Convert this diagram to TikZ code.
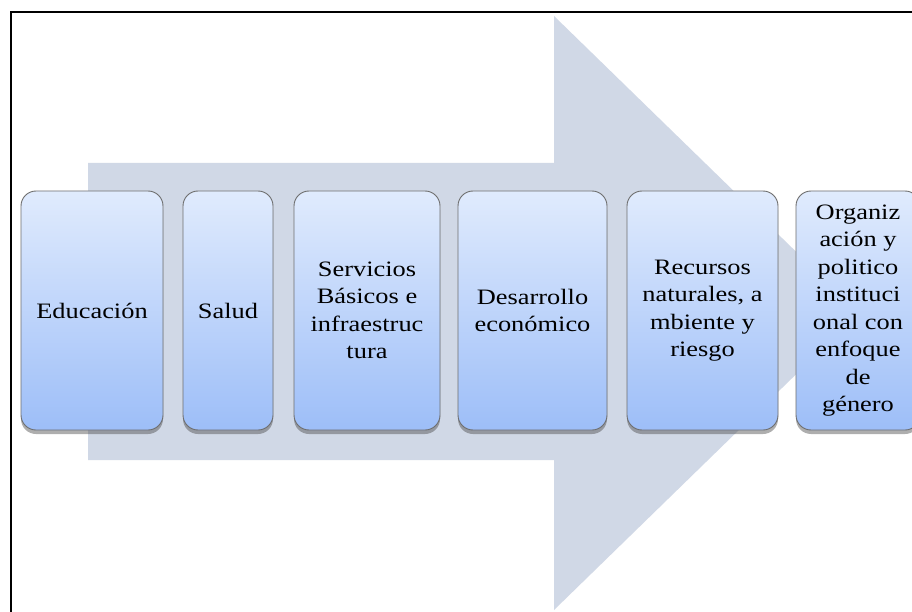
\documentclass[tikz,border=0pt]{standalone}
\usepackage{fontspec}
\setmainfont{Liberation Serif}[FakeStretch=1.2]
\usetikzlibrary{shadows}
\definecolor{arrowfill}{HTML}{D0D8E6}
\definecolor{boxtop}{HTML}{E0EBFD}
\definecolor{boxbot}{HTML}{9DBEF8}
\definecolor{boxline}{HTML}{6E6E6E}
\tikzset{
  stagebox/.style={draw=boxline, line width=0.9pt, rounded corners=15pt,
    top color=boxtop, bottom color=boxbot,
    minimum height=239pt, align=center, inner sep=2pt,
    font=\fontsize{22}{27.5}\selectfont,
    drop shadow={shadow xshift=0pt, shadow yshift=-4pt, opacity=0.45, fill=black!70}},
  bigarrow/.style={fill=arrowfill, draw=none},
  frameline/.style={draw=black, line width=1.2pt}
}
\begin{document}
\begin{tikzpicture}[x=1pt,y=-1pt]
\useasboundingbox (0,0) rectangle (912,612);
\clip (0,0) rectangle (912,612);
\fill[white] (0,0) rectangle (912,612);
% frame
\draw[frameline] (11,620) -- (11,12) -- (920,12);
% big arrow
\coordinate (a1) at (88,163);
\coordinate (a2) at (554,163);
\coordinate (a3) at (554,16);
\coordinate (a4) at (859,313);
\coordinate (a5) at (554,610);
\coordinate (a6) at (554,460);
\coordinate (a7) at (88,460);
\path[bigarrow] (a1) -- (a2) -- (a3) -- (a4) -- (a5) -- (a6) -- (a7) -- cycle;
% stages
\node[stagebox, minimum width=142pt] (edu) at (92,310.5) {Educación};
\node[stagebox, minimum width=90pt] (sal) at (228,310.5) {Salud};
\node[stagebox, minimum width=146pt] (ser) at (367,310.5) {Servicios\\Básicos e\\infraestruc\\tura};
\node[stagebox, minimum width=149pt] (des) at (532.5,310.5) {Desarrollo\\económico};
\node[stagebox, minimum width=151pt] (rec) at (702.5,310.5) {Recursos\\naturales, a\\mbiente y\\riesgo};
\node[stagebox, minimum width=124pt] (org) at (858,310.5) {Organiz\\ación y\\politico\\instituci\\onal con\\enfoque\\de\\género};
\end{tikzpicture}
\end{document}
